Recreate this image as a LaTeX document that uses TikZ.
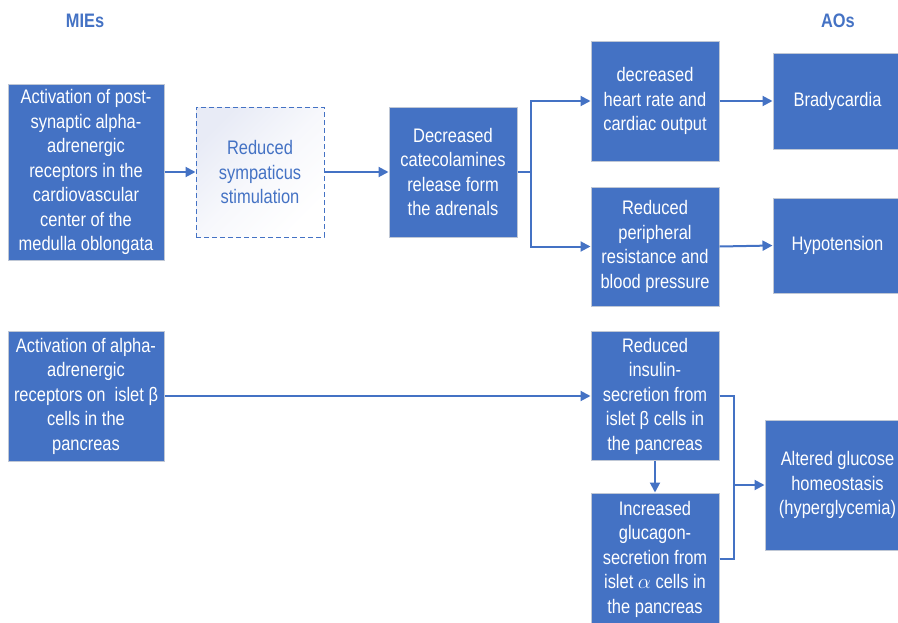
\documentclass[tikz,border=0pt]{standalone}
\usepackage{fontspec}
\setmainfont{Liberation Sans}
% tall, slightly condensed face for the box labels
\newfontfamily\labelfont[FakeStretch=0.84]{Liberation Sans}
\usetikzlibrary{arrows.meta}
\definecolor{boxblue}{HTML}{4472C4}
\definecolor{boxedge}{HTML}{BFC7D5}
\definecolor{haze}{HTML}{E8EBF6}
\tikzset{
  box/.style={draw=boxedge, line width=1pt, fill=boxblue, text=white, align=center,
    inner sep=0pt, font=\labelfont\fontsize{19.6}{24.5}\selectfont},
  softbox/.style={draw=boxblue, line width=1pt, dash pattern=on 5pt off 3pt,
    top color=haze, bottom color=white, middle color=haze!35!white, shading angle=45,
    text=boxblue, align=center,
    inner sep=0pt, font=\labelfont\fontsize{19.6}{24.5}\selectfont},
  heading/.style={text=boxblue, font=\labelfont\fontsize{19.5}{20}\selectfont\bfseries},
  link/.style={draw=boxblue, line width=2pt},
  arr/.style={link, -{Triangle[length=10pt,width=10pt]}}
}
\begin{document}
\begin{tikzpicture}[x=1pt,y=-1pt]
\clip (0,0) rectangle (898,622);

% column headings
\node[heading] (mie) at (85,21) {MIEs};
\node[heading] (ao) at (838,21) {AOs};

% cardiovascular pathway
\node[box, minimum width=156pt, minimum height=176pt] (a1) at (86,172)
  {Activation of post-\\synaptic alpha-\\adrenergic\\receptors in the\\cardiovascular\\center of the\\medulla oblongata};
\node[softbox, minimum width=128pt, minimum height=130pt] (sym) at (260,172)
  {Reduced\\sympaticus\\stimulation};
\node[box, minimum width=128pt, minimum height=130pt] (cat) at (453,172)
  {Decreased\\catecolamines\\release form\\the adrenals};
\node[box, minimum width=128pt, minimum height=120pt] (hr) at (655,101)
  {decreased\\heart rate and\\cardiac output};
\node[box, minimum width=128pt, minimum height=119pt] (per) at (655,246.5)
  {Reduced\\peripheral\\resistance and\\blood pressure};
\node[box, minimum width=129pt, minimum height=96pt] (brady) at (837.5,101)
  {Bradycardia};
\node[box, minimum width=129pt, minimum height=95pt] (hypo) at (837.5,245.5)
  {Hypotension};

% pancreatic pathway
\node[box, minimum width=156pt, minimum height=130pt] (b1) at (86,396)
  {Activation of alpha-\\adrenergic\\receptors on\ \ islet β\\cells in the\\pancreas};
\node[box, minimum width=128pt, minimum height=129pt] (ins) at (655,396)
  {Reduced\\insulin-\\secretion from\\islet β cells in\\the pancreas};
\node[box, minimum width=128pt, minimum height=132pt] (glc) at (655,559)
  {Increased\\glucagon-\\secretion from\\islet $\alpha$ cells in\\the pancreas};
\node[box, minimum width=145pt, minimum height=130pt] (glu) at (837.5,485)
  {Altered glucose\\homeostasis\\(hyperglycemia)};

% connectors
\draw[arr] (a1.east) -- (sym.west);
\draw[arr] (sym.east) -- (cat.west);
\coordinate (split) at (531,172);
\draw[link] (cat.east) -- (split);
\draw[arr] (split) |- (hr.west);
\draw[arr] (split) |- (per.west);
\draw[arr] (hr.east) -- (brady.west);
\draw[arr] (per.east) -- (hypo.west);

\draw[arr] (b1.east) -- (ins.west);
\draw[arr] (ins.south) -- (glc.north);
\coordinate (merge) at (734,485);
\draw[link] (ins.east) -| (merge);
\draw[link] (glc.east) -| (merge);
\draw[arr] (merge) -- (glu.west);
\end{tikzpicture}
\end{document}
